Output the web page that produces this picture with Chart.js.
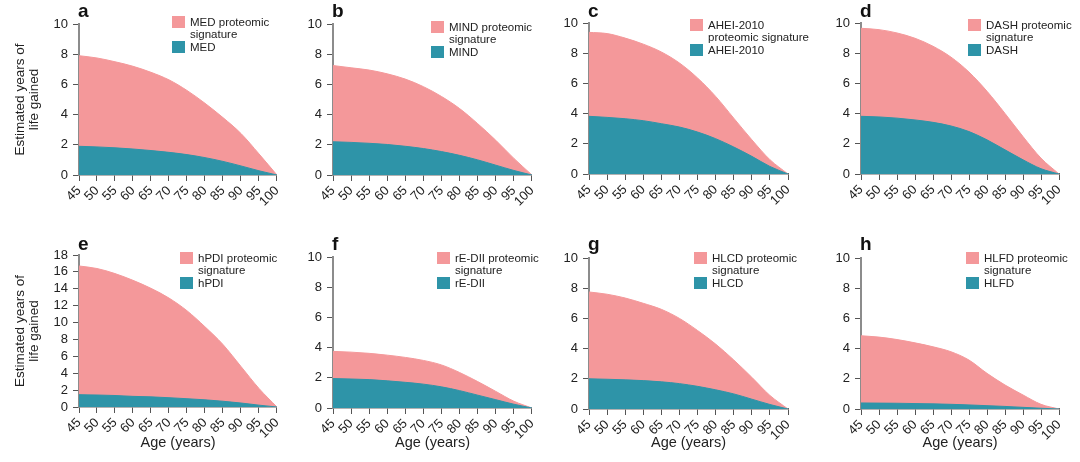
<!DOCTYPE html>
<html>
<head>
<meta charset="utf-8">
<script src="https://cdn.jsdelivr.net/npm/chart.js@4.4.0/dist/chart.umd.min.js"></script>
<style>
    body { margin: 0; background: #fff; width: 1080px; height: 462px; position: relative; overflow: hidden; }
    canvas { position: absolute; }
</style>
</head>
<body>
<script>
// estimated years of life gained at each age
const ages = [45, 50, 55, 60, 65, 70, 75, 80, 85, 90, 95, 100];

const medSig = [7.9, 7.75, 7.5, 7.2, 6.8, 6.3, 5.6, 4.75, 3.8, 2.75, 1.4, 0];
const medDiet = [1.9, 1.86, 1.8, 1.72, 1.62, 1.5, 1.35, 1.15, 0.9, 0.6, 0.28, 0];
const mindSig = [7.25, 7.1, 6.95, 6.7, 6.35, 5.85, 5.2, 4.4, 3.4, 2.3, 1.1, 0];
const mindDiet = [2.2, 2.16, 2.1, 2.02, 1.9, 1.75, 1.55, 1.3, 1.0, 0.65, 0.3, 0];
const aheiSig = [9.38, 9.3, 9.0, 8.6, 8.08, 7.35, 6.36, 5.14, 3.7, 2.27, 0.95, 0];
const aheiDiet = [3.82, 3.75, 3.66, 3.53, 3.33, 3.11, 2.78, 2.34, 1.79, 1.17, 0.5, 0];
const dashSig = [9.65, 9.56, 9.34, 8.99, 8.46, 7.74, 6.75, 5.48, 4.01, 2.48, 1.05, 0];
const dashDiet = [3.82, 3.78, 3.7, 3.58, 3.42, 3.18, 2.81, 2.26, 1.6, 0.94, 0.35, 0];
const hpdiSig = [16.7, 16.4, 15.8, 15.0, 14.05, 12.9, 11.4, 9.5, 7.4, 4.8, 2.2, 0];
const hpdiDiet = [1.46, 1.42, 1.36, 1.26, 1.2, 1.1, 0.98, 0.85, 0.68, 0.47, 0.22, 0];
const rediiSig = [3.75, 3.7, 3.62, 3.5, 3.35, 3.15, 2.85, 2.35, 1.75, 1.1, 0.45, 0];
const rediiDiet = [1.95, 1.92, 1.88, 1.8, 1.7, 1.58, 1.4, 1.15, 0.85, 0.55, 0.25, 0];
const hlcdSig = [7.75, 7.6, 7.35, 7.0, 6.6, 6.0, 5.2, 4.3, 3.25, 2.1, 0.9, 0];
const hlcdDiet = [2.0, 1.97, 1.93, 1.88, 1.8, 1.68, 1.5, 1.27, 1.0, 0.65, 0.3, 0];
const hlfdSig = [4.85, 4.76, 4.6, 4.38, 4.12, 3.79, 3.24, 2.36, 1.59, 0.93, 0.31, 0];
const hlfdDiet = [0.4, 0.39, 0.38, 0.36, 0.34, 0.31, 0.27, 0.22, 0.17, 0.11, 0.05, 0];

const letters = ['a', 'b', 'c', 'd', 'e', 'f', 'g', 'h'];
const dietNames = ['MED', 'MIND', 'AHEI-2010', 'DASH', 'hPDI', 'rE-DII', 'HLCD', 'HLFD'];
const sigLabels = [
    ['MED proteomic', 'signature'],
    ['MIND proteomic', 'signature'],
    ['AHEI-2010', 'proteomic signature'],
    ['DASH proteomic', 'signature'],
    ['hPDI proteomic', 'signature'],
    ['rE-DII proteomic', 'signature'],
    ['HLCD proteomic', 'signature'],
    ['HLFD proteomic', 'signature']
];
const sigValues = [medSig, mindSig, aheiSig, dashSig, hpdiSig, rediiSig, hlcdSig, hlfdSig];
const dietValues = [medDiet, mindDiet, aheiDiet, dashDiet, hpdiDiet, rediiDiet, hlcdDiet, hlfdDiet];
const yMaxes = [10, 10, 10, 10, 18, 10, 10, 10];
const yTitle = ['Estimated years of', 'life gained'];
const xTitle = 'Age (years)';

const PINK = '#f4989a';
const TEAL = '#2e94a8';
const FONT = '"Liberation Sans", Arial, sans-serif';

// layout of the 2 x 4 grid
const colLeft = [0, 290, 545, 815];
const colWidth = [290, 255, 270, 265];
const axisOffset = [79, 43, 44, 46];
const rightPad = [13, 12, 27, 21];
const panelTop = [24, 24, 23, 23, 24, 26, 27, 27];
const panelBottom = [175, 175, 174, 174, 176, 177, 178, 178];
const legendX = [93, 98, 101, 107, 101, 104, 105, 105];
const legendY = [16, 21, 19, 19, 21, 21, 21, 21];

const decor = {
    id: 'decor',
    afterDraw(chart, args, opts) {
        const ctx = chart.ctx;
        const area = chart.chartArea;
        ctx.save();
        ctx.fillStyle = '#111';
        ctx.textAlign = 'left';
        ctx.textBaseline = 'alphabetic';
        ctx.font = 'bold 19px ' + FONT;
        ctx.fillText(opts.letter, area.left - 1, opts.letterY);

        let x = area.left + opts.legendX;
        let y = opts.legendY;
        ctx.font = '11.5px ' + FONT;
        ctx.textBaseline = 'middle';
        ctx.fillStyle = PINK;
        ctx.fillRect(x, y, 13, 12);
        ctx.fillStyle = '#222';
        opts.sigLines.forEach((t, k) => ctx.fillText(t, x + 18, y + 7 + k * 11.5));
        ctx.fillStyle = TEAL;
        ctx.fillRect(x, y + 25, 13, 12);
        ctx.fillStyle = '#222';
        ctx.fillText(opts.dietName, x + 18, y + 32);
        ctx.restore();
    }
};

for (let i = 0; i < 8; i++) {
    const col = i % 4;
    const row = Math.floor(i / 4);
    const canvas = document.createElement('canvas');
    canvas.id = 'chart' + i;
    canvas.width = colWidth[col];
    canvas.height = 231;
    canvas.style.left = colLeft[col] + 'px';
    canvas.style.top = (row * 231) + 'px';
    document.body.appendChild(canvas);

    const firstCol = col === 0;
    const bottomRow = row === 1;
    const yW = axisOffset[col];
    const xH = 231 - panelBottom[i];

    new Chart(canvas, {
        type: 'line',
        data: {
            datasets: [{
                label: dietNames[i],
                data: ages.map((a, k) => ({x: a, y: dietValues[i][k]})),
                backgroundColor: TEAL,
                borderColor: TEAL,
                borderWidth: 1,
                fill: 'origin',
                pointRadius: 0,
                cubicInterpolationMode: 'monotone'
            }, {
                label: sigLabels[i].join(' '),
                data: ages.map((a, k) => ({x: a, y: sigValues[i][k]})),
                backgroundColor: PINK,
                borderColor: PINK,
                borderWidth: 1,
                fill: 'origin',
                pointRadius: 0,
                cubicInterpolationMode: 'monotone'
            }]
        },
        options: {
            responsive: false,
            animation: false,
            events: [],
            layout: {padding: {top: panelTop[i], right: rightPad[col], left: 0, bottom: 0}},
            plugins: {
                legend: {display: false},
                tooltip: {enabled: false},
                decor: {
                    letter: letters[i],
                    letterY: bottomRow ? 19 : 17,
                    legendX: legendX[i],
                    legendY: legendY[i],
                    sigLines: sigLabels[i],
                    dietName: dietNames[i]
                }
            },
            scales: {
                x: {
                    type: 'linear',
                    min: 45,
                    max: 100,
                    afterFit: (s) => { s.height = xH; },
                    border: {color: '#666', width: 1.5},
                    grid: {drawOnChartArea: false, drawTicks: true, tickLength: 6, tickColor: '#555'},
                    ticks: {
                        stepSize: 5, autoSkip: false, minRotation: 45, maxRotation: 45,
                        padding: 2, color: '#222', font: {family: FONT, size: 13}
                    },
                    title: {
                        display: bottomRow, text: xTitle, color: '#222',
                        font: {family: FONT, size: 14.5}, padding: {top: 0, bottom: 10}
                    }
                },
                y: {
                    min: 0,
                    max: yMaxes[i],
                    afterFit: (s) => { s.width = yW; },
                    border: {color: '#8c8c8c', width: 2},
                    grid: {drawOnChartArea: false, drawTicks: true, tickLength: 6, tickColor: '#555'},
                    ticks: {stepSize: 2, autoSkip: false, padding: 5, color: '#222', font: {family: FONT, size: 13}},
                    title: {
                        display: firstCol, text: yTitle, color: '#222',
                        font: {family: FONT, size: 13.5, lineHeight: 1.1}, padding: {top: 12.5, bottom: 0}
                    }
                }
            }
        },
        plugins: [decor]
    });
}
</script>
</body>
</html>
